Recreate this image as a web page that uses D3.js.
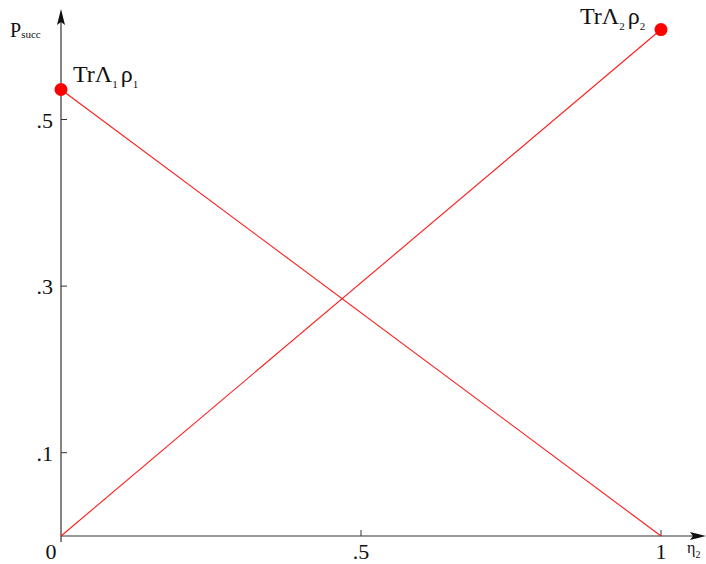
<!DOCTYPE html>
<html><head><meta charset="utf-8">
<script src="https://cdn.jsdelivr.net/npm/d3@7"></script>
<style>body{margin:0;background:#fff}text{font-family:"Liberation Serif","Times New Roman",serif;fill:#111}</style>
</head><body><svg id="c" width="706" height="564"></svg>
<script>
const xTicks = [0, 0.5, 1];
const xTickLabels = ["0", ".5", "1"];
const yTicks = [0.1, 0.3, 0.5];
const yTickLabels = [".1", ".3", ".5"];
const eta = [0, 1];
const line1 = [0, 0.608];   // Tr Λ2 ρ2 line (rising)
const line2 = [0.536, 0];   // Tr Λ1 ρ1 line (falling)

const svg = d3.select("#c");
const x = d3.scaleLinear().domain([0, 1]).range([61, 661]);
const y = d3.scaleLinear().domain([0, 0.5]).range([536, 119.5]);
const axisCol = "#333";

svg.append("line").attr("x1", x(0)).attr("x2", 697).attr("y1", y(0)).attr("y2", y(0)).attr("stroke", axisCol).attr("stroke-width", 1.2);
svg.append("path").attr("d", `M706,${y(0)} L690,${y(0)-4} L693,${y(0)} L690,${y(0)+4} Z`).attr("fill", "#111");
svg.append("line").attr("x1", x(0)).attr("x2", x(0)).attr("y1", y(0)+6).attr("y2", 18).attr("stroke", axisCol).attr("stroke-width", 1.2);
svg.append("path").attr("d", `M${x(0)},9 L${x(0)-4},25 L${x(0)},22 L${x(0)+4},25 Z`).attr("fill", "#111");

xTicks.forEach((t, i) => {
  if (t > 0) svg.append("line").attr("x1", x(t)).attr("x2", x(t)).attr("y1", y(0)).attr("y2", y(0)-6).attr("stroke", axisCol);
  svg.append("text").attr("x", x(t) + (t === 0 ? -10 : 0)).attr("y", y(0)+23).attr("text-anchor", "middle").attr("font-size", 22).text(xTickLabels[i]);
});
yTicks.forEach((t, i) => {
  svg.append("line").attr("x1", x(0)).attr("x2", x(0)+6).attr("y1", y(t)).attr("y2", y(t)).attr("stroke", axisCol);
  svg.append("text").attr("x", 53).attr("y", y(t)+8).attr("text-anchor", "end").attr("font-size", 22).text(yTickLabels[i]);
});

const lineGen = d3.line().x((d, i) => x(eta[i])).y(d => y(d));
[line1, line2].forEach(s => svg.append("path").attr("d", lineGen(s)).attr("fill", "none").attr("stroke", "#ff1a1a").attr("stroke-width", 1.1));

svg.append("circle").attr("cx", x(0)).attr("cy", y(line2[0])).attr("r", 6.5).attr("fill", "#ff0000");
svg.append("circle").attr("cx", x(1)).attr("cy", y(line1[1])).attr("r", 6.5).attr("fill", "#ff0000");

function trLabel(px, py, sub) {
  const t = svg.append("text").attr("x", px).attr("y", py).attr("font-size", 24);
  t.append("tspan").text("TrΛ");
  t.append("tspan").attr("font-size", 11).attr("dy", 6).text(sub);
  t.append("tspan").attr("font-size", 24).attr("dy", -6).attr("dx", 3).text("ρ");
  t.append("tspan").attr("font-size", 11).attr("dy", 6).text(sub);
}
trLabel(73, 82, "1");
trLabel(580, 24, "2");

const pl = svg.append("text").attr("x", 10).attr("y", 37).attr("font-size", 20);
pl.append("tspan").text("P");
pl.append("tspan").attr("font-size", 11).attr("dy", 1).text("succ");

const el = svg.append("text").attr("x", 687).attr("y", 553).attr("font-size", 16);
el.append("tspan").text("η");
el.append("tspan").attr("font-size", 10).attr("dy", 5).text("2");
</script></body></html>
